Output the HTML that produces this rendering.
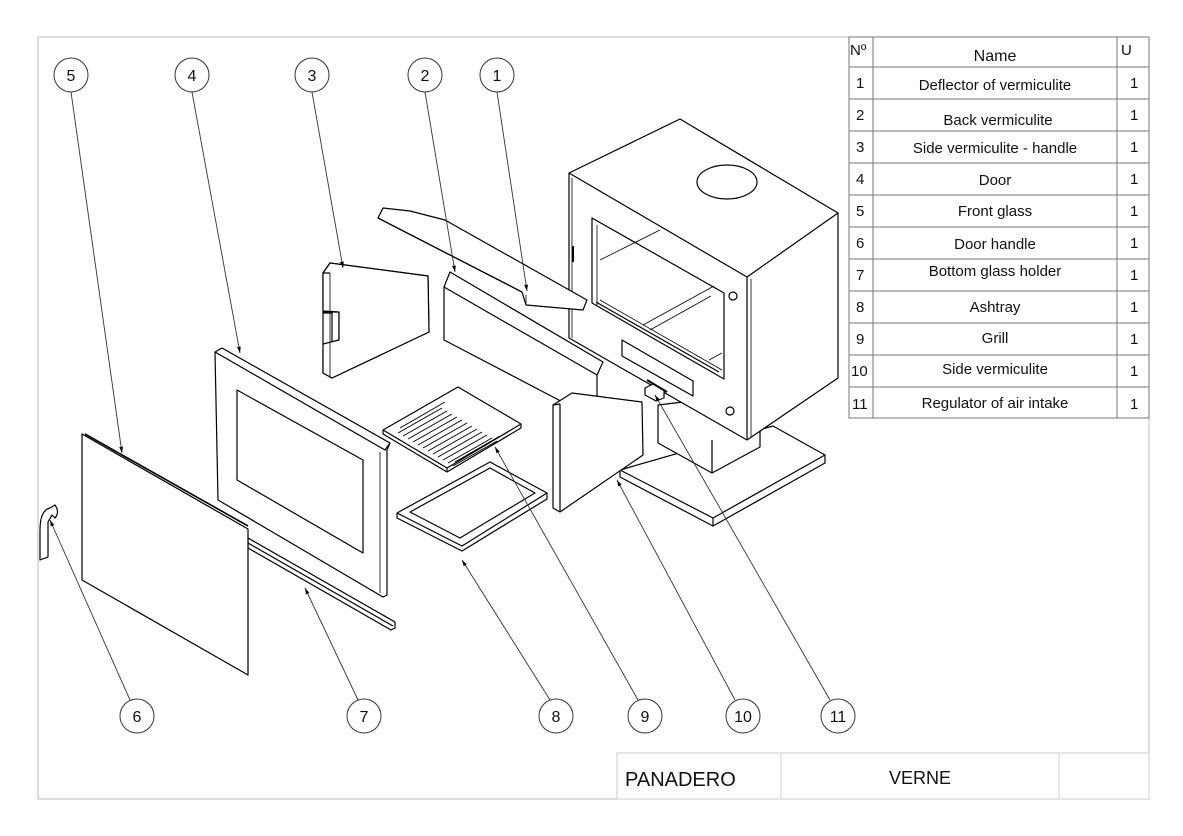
<!DOCTYPE html>
<html><head><meta charset="utf-8"><style>
html,body{margin:0;padding:0;background:#fff}
svg{display:block}
text{font-family:"Liberation Sans",sans-serif;fill:#111}
</style></head><body>
<svg width="1183" height="836" viewBox="0 0 1183 836" xmlns="http://www.w3.org/2000/svg">
<defs>
<marker id="ar" viewBox="0 0 10 10" refX="10" refY="5" markerWidth="7" markerHeight="7" orient="auto"><path d="M0,2 L10,5 L0,8 z" fill="#000"/></marker>
</defs>
<rect x="38" y="37" width="1111" height="762" fill="none" stroke="#bbb" stroke-width="1"/>
<!-- table -->
<g stroke="#777" stroke-width="1" fill="none">
<rect x="849" y="37" width="300" height="381"/>
<line x1="873" y1="37" x2="873" y2="418"/>
<line x1="1117" y1="37" x2="1117" y2="418"/>
<line x1="849" y1="67" x2="1149" y2="67"/>
<line x1="849" y1="99" x2="1149" y2="99"/>
<line x1="849" y1="131" x2="1149" y2="131"/>
<line x1="849" y1="163" x2="1149" y2="163"/>
<line x1="849" y1="195" x2="1149" y2="195"/>
<line x1="849" y1="227" x2="1149" y2="227"/>
<line x1="849" y1="259" x2="1149" y2="259"/>
<line x1="849" y1="291" x2="1149" y2="291"/>
<line x1="849" y1="323" x2="1149" y2="323"/>
<line x1="849" y1="355" x2="1149" y2="355"/>
<line x1="849" y1="387" x2="1149" y2="387"/>
</g>
<g font-size="15">
<text x="850" y="55">Nº</text><text x="995" y="61" text-anchor="middle" font-size="16" fill="#333">Name</text><text x="1121" y="55">U</text>
<g text-anchor="middle">
<text x="995" y="90">Deflector of vermiculite</text>
<text x="998" y="125">Back vermiculite</text>
<text x="995" y="153">Side vermiculite - handle</text>
<text x="995" y="185">Door</text>
<text x="995" y="216">Front glass</text>
<text x="995" y="249">Door handle</text>
<text x="995" y="276">Bottom glass holder</text>
<text x="995" y="312">Ashtray</text>
<text x="995" y="343">Grill</text>
<text x="995" y="374">Side vermiculite</text>
<text x="995" y="408">Regulator of air intake</text>
</g>
<g fill="#333">
<text x="856" y="88">1</text><text x="856" y="120">2</text><text x="856" y="152">3</text><text x="856" y="184">4</text><text x="856" y="216">5</text><text x="856" y="248">6</text><text x="856" y="280">7</text><text x="856" y="312">8</text><text x="856" y="344">9</text><text x="851" y="376">10</text><text x="852" y="409">11</text>
<text x="1130" y="88">1</text><text x="1130" y="120">1</text><text x="1130" y="152">1</text><text x="1130" y="184">1</text><text x="1130" y="216">1</text><text x="1130" y="248">1</text><text x="1130" y="280">1</text><text x="1130" y="312">1</text><text x="1130" y="344">1</text><text x="1130" y="376">1</text><text x="1130" y="409">1</text>
</g>
</g>
<!-- title block -->
<g stroke="#ccc" fill="none"><rect x="617" y="753" width="532" height="46"/><line x1="781" y1="753" x2="781" y2="799"/><line x1="1059" y1="753" x2="1059" y2="799"/></g>
<text x="625" y="786" font-size="20">PANADERO</text>
<text x="920" y="784" font-size="18" text-anchor="middle">VERNE</text>

<!-- balloons -->
<g stroke="#333" fill="#fff" stroke-width="1">
<circle cx="71" cy="75" r="17"/><circle cx="192" cy="75" r="17"/><circle cx="312" cy="75" r="17"/><circle cx="425" cy="75" r="17"/><circle cx="497" cy="75" r="17"/>
<circle cx="137" cy="716" r="17"/><circle cx="364" cy="716" r="17"/><circle cx="556" cy="716" r="17"/><circle cx="645" cy="716" r="17"/><circle cx="743" cy="716" r="17"/><circle cx="838" cy="716" r="17"/>
</g>
<g font-size="16" text-anchor="middle" fill="#333">
<text x="71" y="81">5</text><text x="192" y="81">4</text><text x="312" y="81">3</text><text x="425" y="81">2</text><text x="497" y="81">1</text>
<text x="137" y="722">6</text><text x="364" y="722">7</text><text x="556" y="722">8</text><text x="645" y="722">9</text><text x="743" y="722">10</text><text x="838" y="722">11</text>
</g>

<!-- parts -->
<g fill="#fff" stroke="#000" stroke-width="1.2" stroke-linejoin="round">
<!-- base plate -->
<polygon points="620,470 773,426 825,455 825,463 713,526 620,477"/>
<polyline points="620,470 713,518 825,455" fill="none"/>
<line x1="713" y1="518" x2="713" y2="526"/>
<!-- pedestal -->
<polygon points="658,405 658,443 712,473 760,447 760,430 700,400"/>
<line x1="712" y1="440" x2="712" y2="473"/>
<!-- stove body -->
<polygon points="569,173 680,119 838,213 838,378 747,440 569,338"/>
<polyline points="569,173 747,277 838,213" fill="none"/>
<line x1="747" y1="277" x2="747" y2="440"/>
<line x1="572" y1="178" x2="572" y2="338" stroke-width="0.8"/>
<line x1="751" y1="279" x2="751" y2="438" stroke-width="0.8"/>
<ellipse cx="727" cy="182" rx="30" ry="17"/>
<polygon points="592,218 724,293 724,379 592,303"/>
<polyline points="597,225 597,305" fill="none" stroke-width="0.8"/>
<polyline points="596,302 719,372" fill="none"/>
<polyline points="600,300 722,370" fill="none" stroke-width="0.8"/>
<line x1="600" y1="260" x2="660" y2="230" stroke-width="0.8"/>
<line x1="643" y1="325" x2="714" y2="286" stroke-width="0.8"/>
<line x1="650" y1="330" x2="711" y2="296" stroke-width="0.8"/>
<line x1="709" y1="360" x2="722" y2="353" stroke-width="0.8"/>
<polygon points="622,340 693,381 693,396 622,356"/>
<circle cx="733" cy="296" r="4"/><circle cx="730" cy="411" r="4"/>
<line x1="573" y1="246" x2="573" y2="262" stroke-width="2"/>
<!-- back vermiculite -->
<polygon points="444,287 450,272 603,362 597,375 597,420 444,340"/>
<line x1="444" y1="287" x2="597" y2="375"/>
<!-- deflector -->
<polygon points="378,218 383,208 410,211 445,220 587,300 583,310 526,305 522,292"/>
<line x1="378" y1="218" x2="522" y2="292"/>
<line x1="526" y1="295" x2="526" y2="305" stroke-width="0.8"/>
<!-- side vermiculite handle -->
<polygon points="323,273 330,263 428,276 429,332 332,378 323,373 323,348 332,343 332,313 323,313 323,312 339,312 339,340 323,345"/>
<polygon points="323,273 330,263 428,276 429,332 332,378 323,373 323,344 339,340 339,312 323,311"/>
<line x1="330" y1="273" x2="330" y2="378" stroke-width="0.8"/>
<line x1="323" y1="273" x2="330" y2="273"/>
<!-- side vermiculite 10 -->
<polygon points="553,405 572,393 642,402 643,455 560,512 553,508"/>
<line x1="560" y1="404" x2="560" y2="512"/>
<line x1="553" y1="405" x2="560" y2="404"/>
<!-- regulator -->
<polygon points="645,388 653,384 664,390 664,398 656,401 645,395"/>
<line x1="647" y1="380" x2="667" y2="392" stroke-width="2"/>
<!-- grill -->
<polygon points="383,430 458,387 521,424 521,428 447,472 383,434"/>
<polyline points="383,430 447,468 521,424" fill="none"/>
<line x1="447" y1="468" x2="447" y2="472"/>
<g stroke-width="1" fill="none">
<line x1="398" y1="433" x2="442" y2="408"/><line x1="403" y1="436" x2="447" y2="411"/><line x1="408" y1="439" x2="452" y2="414"/><line x1="413" y1="442" x2="457" y2="417"/><line x1="418" y1="445" x2="462" y2="420"/><line x1="423" y1="448" x2="467" y2="423"/><line x1="428" y1="451" x2="472" y2="426"/><line x1="433" y1="454" x2="477" y2="429"/><line x1="438" y1="457" x2="482" y2="432"/><line x1="443" y1="460" x2="487" y2="435"/><line x1="448" y1="463" x2="492" y2="438"/><line x1="453" y1="466" x2="497" y2="441"/>
<line x1="400" y1="428" x2="445" y2="402"/><line x1="455" y1="462" x2="500" y2="436"/>
</g>
<!-- ashtray -->
<polygon points="397,513 490,462 547,493 547,499 462,551 397,518"/>
<polyline points="397,513 462,546 547,493" fill="none"/>
<polygon points="410,512 490,468 535,493 460,538"/>
<!-- door -->
<polygon points="215,352 222,348 390,443 387,450 387,595 383,597 218,500"/>
<polyline points="215,352 385,450 390,443" fill="none"/>
<line x1="380" y1="452" x2="380" y2="593" stroke-width="0.8"/>
<polygon points="237,390 363,460 363,553 237,480"/>
<!-- bottom glass holder -->
<polygon points="248,538 395,622 395,628 391,630 248,548"/>
<line x1="248" y1="543" x2="393" y2="626"/>
<!-- glass -->
<polygon points="82,434 248,529 248,675 82,580"/>
<line x1="85" y1="434" x2="248" y2="526" stroke-width="1.6"/>
<!-- handle -->
<path d="M40,550 L40,530 Q40,510 50,508 L55,505 Q60,512 55,518 L52,515 L48,522 L48,557 L40,560 Z"/>
</g>

<!-- leaders -->
<g stroke="#333" stroke-width="0.9" fill="none" marker-end="url(#ar)">
<line x1="71" y1="92" x2="122" y2="453"/>
<line x1="192" y1="92" x2="240" y2="353"/>
<line x1="312" y1="92" x2="343" y2="268"/>
<line x1="425" y1="92" x2="455" y2="272"/>
<line x1="497" y1="92" x2="527" y2="291"/>
<line x1="130" y1="700" x2="50" y2="520"/>
<line x1="358" y1="700" x2="305" y2="588"/>
<line x1="550" y1="700" x2="462" y2="560"/>
<line x1="638" y1="700" x2="495" y2="447"/>
<line x1="735" y1="700" x2="617" y2="480"/>
<line x1="830" y1="700" x2="655" y2="395"/>
</g>
</svg>
</body></html>
